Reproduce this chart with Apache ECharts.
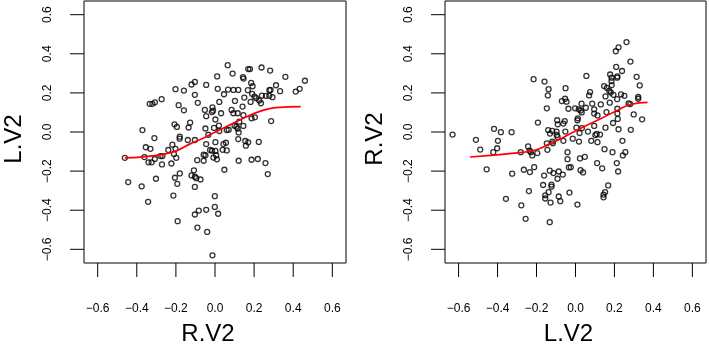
<!DOCTYPE html>
<html><head><meta charset="utf-8">
<script src="https://cdn.jsdelivr.net/npm/echarts@6/dist/echarts.min.js"></script>
<style>html,body{margin:0;padding:0;background:#fff}#c{width:709px;height:352px}</style>
</head><body><div id="c"></div>
<script>
const tickValues = [-0.6, -0.4, -0.2, 0, 0.2, 0.4, 0.6];
const BOX_MIN = -0.67, BOX_MAX = 0.67;

// R.V2 (x of left panel, y of right panel)
const RV2 = [
 0.011,-0.103,-0.120,-0.045,-0.202,-0.159,0.014,-0.103,-0.334,-0.320,
 -0.307,-0.273,-0.186,-0.088,-0.159,-0.052,-0.013,-0.010,-0.016,-0.045,
 0.002,-0.371,-0.207,-0.195,-0.127,-0.135,-0.049,-0.005,0.020,0.022,
 -0.310,-0.180,-0.181,-0.139,-0.103,-0.034,0.022,-0.354,-0.330,-0.218,
 -0.239,-0.202,-0.045,0.002,-0.461,-0.361,-0.340,-0.324,-0.308,-0.279,
 -0.269,-0.271,-0.223,-0.210,-0.198,-0.058,-0.049,-0.025,-0.015,0.002,
 -0.008,0.010,-0.091,-0.058,-0.180,-0.108,-0.120,-0.103,-0.096,-0.074,
 -0.205,-0.193,-0.302,-0.444,-0.375,-0.103,-0.342,-0.213,-0.001,-0.001,
 -0.045,-0.083,-0.103,0.016,-0.191,-0.090,-0.040,-0.013,0.287,0.060,
 0.070,0.100,0.110,0.116,0.145,0.124,0.121,0.119,0.043,0.056,
 0.155,0.170,0.158,0.224,0.039,0.060,0.006,0.121,0.187,0.219,
 0.258,0.270,0.048,0.065,0.170,0.179,0.238,0.282,0.090,0.143,
 0.146,0.360,0.460,0.185,0.192,0.312,0.067,0.094,0.119,0.168,
 0.278,0.284,0.333,0.046,0.190,0.202,0.211,0.240,0.260,0.278,
 0.294,0.413,0.433,0.150,0.102,0.182,0.226,0.235,0.031,0.085,
 0.094,0.116,0.141,0.145,0.187,0.204
];
// L.V2 (y of left panel, x of right panel)
const LV2 = [
 0.284,0.256,0.243,0.241,0.219,0.212,0.221,0.190,0.144,0.144,
 0.152,0.168,0.137,0.149,0.111,0.113,0.126,0.109,0.102,0.081,
 0.064,0.010,0.039,0.026,0.048,0.023,0.018,0.021,0.033,0.154,
 -0.031,-0.024,-0.034,-0.041,-0.041,-0.014,0.005,-0.078,-0.086,-0.065,
 -0.092,-0.086,-0.062,-0.052,-0.132,-0.128,-0.155,-0.155,-0.138,-0.123,
 -0.123,-0.166,-0.161,-0.113,-0.132,-0.116,-0.119,-0.092,-0.096,-0.097,
 -0.131,-0.140,-0.144,-0.147,-0.212,-0.196,-0.222,-0.229,-0.236,-0.243,
 -0.234,-0.265,-0.239,-0.256,-0.278,-0.281,-0.357,-0.325,-0.328,-0.383,
 -0.398,-0.402,-0.422,-0.418,-0.456,-0.489,-0.511,-0.631,0.056,0.010,
 0.012,0.032,0.027,0.017,0.031,0.053,-0.002,-0.036,-0.062,-0.055,
 -0.046,-0.053,-0.070,-0.051,-0.091,-0.094,-0.119,-0.147,-0.142,-0.138,
 -0.159,-0.215,-0.193,0.342,0.322,0.322,0.330,0.314,0.299,0.281,
 0.273,0.282,0.262,0.251,0.234,0.239,0.217,0.215,0.215,0.214,
 0.214,0.215,0.209,0.193,0.195,0.181,0.173,0.186,0.185,0.185,
 0.178,0.207,0.221,0.176,0.159,0.154,0.161,0.147,0.096,0.113,
 0.096,0.096,0.130,0.086,0.070,0.075
];

// smooth fits (red curves)
const fitLeftX  = [-0.461,-0.368,-0.266,-0.198,-0.130,-0.045,0.022,0.141,0.226,0.311,0.438];
const fitLeftY  = [-0.132,-0.127,-0.114,-0.096,-0.062,-0.024,0.010,0.068,0.104,0.125,0.130];
const fitRightX = [-0.541,-0.273,-0.205,-0.137,-0.070,0.015,0.134,0.219,0.287,0.370];
const fitRightY = [-0.128,-0.104,-0.092,-0.063,-0.032,0.013,0.070,0.113,0.142,0.152];

const FONT = '"Liberation Sans", Arial, Helvetica, sans-serif';
const fmt = v => (v < -1e-9 ? '\u2212' : '') + Math.abs(v).toFixed(1);
const TICK_LEN = 14;
// data grids reach 14px past the plot box (left/bottom) so outward ticks lie inside them
const EXT_MIN = BOX_MIN - TICK_LEN * (BOX_MAX - BOX_MIN) / 262;

function axis(gridIndex, name, vertical) {
  return {
    gridIndex: gridIndex, type: 'value', min: EXT_MIN, max: BOX_MAX,
    name: name, nameLocation: 'middle', nameGap: vertical ? 44 : 45,
    nameTextStyle: { fontSize: 24, color: '#000', fontFamily: FONT },
    axisLine: { show: false, onZero: false },
    splitLine: { show: false },
    axisTick: { show: false },
    axisLabel: { show: true, customValues: tickValues, rotate: vertical ? 90 : 0,
                 margin: vertical ? 16 : 26, fontSize: 12, color: '#000',
                 fontFamily: FONT, formatter: fmt, hideOverlap: false }
  };
}
function frameAxis(gridIndex) {
  return { gridIndex: gridIndex, type: 'value', min: BOX_MIN, max: BOX_MAX, show: false };
}

const pointStyle = { color: 'rgba(0,0,0,0)', borderColor: '#000', borderWidth: 1.3 };

function tickSeries(axisIdx) {
  const out = [];
  tickValues.forEach(v => {
    out.push({ type: 'line', xAxisIndex: axisIdx, yAxisIndex: axisIdx, showSymbol: false, silent: true,
               clip: false, z: 3, lineStyle: { color: '#000', width: 1 }, emphasis: { disabled: true },
               data: [[v, BOX_MIN], [v, EXT_MIN]] });
    out.push({ type: 'line', xAxisIndex: axisIdx, yAxisIndex: axisIdx, showSymbol: false, silent: true,
               clip: false, z: 3, lineStyle: { color: '#000', width: 1 }, emphasis: { disabled: true },
               data: [[BOX_MIN, v], [EXT_MIN, v]] });
  });
  return out;
}

const option = {
  animation: false,
  backgroundColor: '#fff',
  grid: [
    { left: 70, top: 1, width: 276, height: 276, show: false },
    { left: 431, top: 1, width: 275, height: 276, show: false },
    { left: 84, top: 1, width: 262, height: 262, show: true, borderColor: '#000', borderWidth: 1, backgroundColor: 'rgba(0,0,0,0)' },
    { left: 445, top: 1, width: 261, height: 262, show: true, borderColor: '#000', borderWidth: 1, backgroundColor: 'rgba(0,0,0,0)' }
  ],
  xAxis: [ axis(0, 'R.V2', false), axis(1, 'L.V2', false), frameAxis(2), frameAxis(3) ],
  yAxis: [ axis(0, 'L.V2', true), axis(1, 'R.V2', true), frameAxis(2), frameAxis(3) ],
  series: [
    { type: 'scatter', xAxisIndex: 0, yAxisIndex: 0, symbol: 'circle', symbolSize: 5,
      itemStyle: pointStyle, emphasis: { disabled: true },
      data: RV2.map((x, i) => [x, LV2[i]]) },
    { type: 'scatter', xAxisIndex: 1, yAxisIndex: 1, symbol: 'circle', symbolSize: 5,
      itemStyle: pointStyle, emphasis: { disabled: true },
      data: LV2.map((x, i) => [x, RV2[i]]) },
    { type: 'line', xAxisIndex: 0, yAxisIndex: 0, smooth: true, showSymbol: false, z: 5,
      lineStyle: { color: '#ff0000', width: 1.7 }, emphasis: { disabled: true },
      data: fitLeftX.map((x, i) => [x, fitLeftY[i]]) },
    { type: 'line', xAxisIndex: 1, yAxisIndex: 1, smooth: true, showSymbol: false, z: 5,
      lineStyle: { color: '#ff0000', width: 1.7 }, emphasis: { disabled: true },
      data: fitRightX.map((x, i) => [x, fitRightY[i]]) }
  ].concat(tickSeries(0), tickSeries(1))
};
const chart = echarts.init(document.getElementById('c'), null, { renderer: 'canvas' });
chart.setOption(option);
</script>
</body></html>
